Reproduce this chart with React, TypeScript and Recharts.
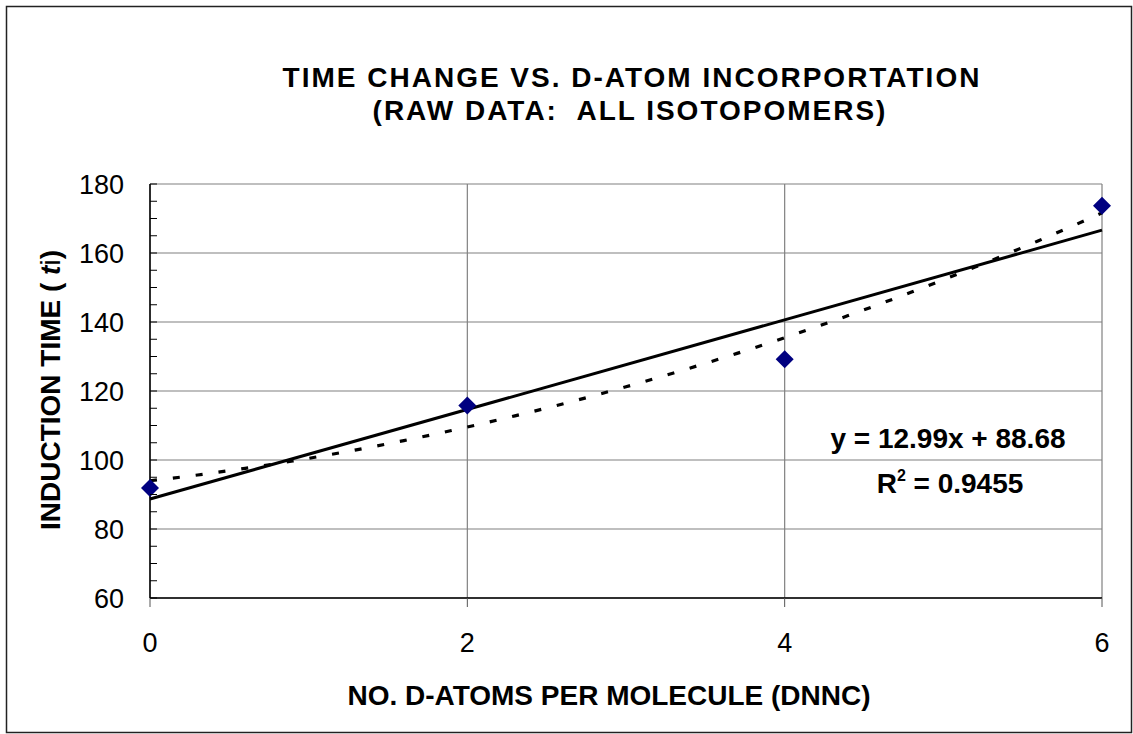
import React from 'react';
import { ComposedChart, Scatter, Line, XAxis, YAxis, CartesianGrid } from 'recharts';

// ---- data ----
const dAtoms = [0, 2, 4, 6];
const inductionTime = [91.9, 115.8, 129.2, 173.7];

const xTicks = [0, 2, 4, 6];
const yTicks = [60, 65, 70, 75, 80, 85, 90, 95, 100, 105, 110, 115, 120, 125, 130, 135, 140, 145, 150, 155, 160, 165, 170, 175, 180];
const yGrid = [60, 80, 100, 120, 140, 160, 180];
const xGrid = [0, 2, 4, 6];

const TREND_SLOPE = 12.99;
const TREND_INTERCEPT = 88.68;
const R_SQUARED = '0.9455';

const titleLine1 = 'TIME CHANGE VS. D-ATOM INCORPORTATION';
const titleLine2 = '(RAW DATA:  ALL ISOTOPOMERS)';
const xLabel = 'NO. D-ATOMS PER MOLECULE (DNNC)';

const points = dAtoms.map((x, i) => ({ x, y: inductionTime[i] }));

// linear trendline (from displayed equation)
const linearTrend = [0, 6].map((x) => ({ x, y: TREND_INTERCEPT + TREND_SLOPE * x }));

// quadratic least-squares trendline computed from the data
function quadFit(xs: number[], ys: number[]) {
  const n = xs.length;
  let s1 = 0, s2 = 0, s3 = 0, s4 = 0, t0 = 0, t1 = 0, t2 = 0;
  for (let i = 0; i < n; i++) {
    const x = xs[i], y = ys[i];
    s1 += x; s2 += x * x; s3 += x * x * x; s4 += x * x * x * x;
    t0 += y; t1 += x * y; t2 += x * x * y;
  }
  const M = [
    [n, s1, s2, t0],
    [s1, s2, s3, t1],
    [s2, s3, s4, t2],
  ];
  for (let c = 0; c < 3; c++) {
    let p = c;
    for (let r = c + 1; r < 3; r++) if (Math.abs(M[r][c]) > Math.abs(M[p][c])) p = r;
    [M[c], M[p]] = [M[p], M[c]];
    for (let r = 0; r < 3; r++) {
      if (r === c) continue;
      const f = M[r][c] / M[c][c];
      for (let k = c; k < 4; k++) M[r][k] -= f * M[c][k];
    }
  }
  return [M[0][3] / M[0][0], M[1][3] / M[1][1], M[2][3] / M[2][2]];
}
const [qa, qb, qc] = quadFit(dAtoms, inductionTime);
const quadSamples: number[] = [];
for (let i = 0; i <= 60; i++) quadSamples.push(i / 10);
const quadTrend = quadSamples.map((x) => ({ x, y: qa + qb * x + qc * x * x }));

const FONT = '"Liberation Sans", Arial, Helvetica, sans-serif';
const PLOT_LEFT = 150;

const Diamond = (props: any) => {
  const { cx, cy } = props;
  if (cx == null || cy == null) return null;
  const r = 9;
  return <polygon points={`${cx},${cy - r} ${cx + r},${cy} ${cx},${cy + r} ${cx - r},${cy}`} fill="#000080" />;
};

const YTick = (props: any) => {
  const { y, payload } = props;
  const v = payload.value;
  return (
    <g>
      <line x1={PLOT_LEFT} x2={PLOT_LEFT + 7} y1={y} y2={y} stroke="#000" strokeWidth={1} />
      {v % 20 === 0 ? (
        <text x={124} y={y} dy={9.5} textAnchor="end" fontFamily={FONT} fontSize={27} fill="#000">
          {v}
        </text>
      ) : null}
    </g>
  );
};

const XTick = (props: any) => {
  const { x, payload } = props;
  return (
    <text x={x} y={652} textAnchor="middle" fontFamily={FONT} fontSize={27} fill="#000">
      {payload.value}
    </text>
  );
};

export default function App() {
  return (
    <div style={{ position: 'absolute', left: 0, top: 0, width: 1133, height: 734, background: '#fff' }}>
      <ComposedChart
        width={1133}
        height={734}
        margin={{ top: 184, right: 31, bottom: 76, left: 60 }}
      >
        <CartesianGrid
          stroke="#808080"
          strokeWidth={1.2}
          horizontalValues={yGrid}
          verticalValues={xGrid}
        />
        <XAxis
          type="number"
          dataKey="x"
          domain={[0, 6]}
          ticks={xTicks}
          height={60}
          axisLine={{ stroke: '#000', strokeWidth: 1.5 }}
          tickLine={{ stroke: '#555', strokeWidth: 1 }}
          tickSize={9}
          tick={<XTick />}
        />
        <YAxis
          type="number"
          dataKey="y"
          domain={[60, 180]}
          ticks={yTicks}
          width={90}
          interval={0}
          axisLine={{ stroke: '#000', strokeWidth: 1.5 }}
          tickLine={false}
          tick={<YTick />}
        />
        <Scatter data={points} dataKey="y" shape={<Diamond />} isAnimationActive={false} />
        <Line
          data={quadTrend}
          dataKey="y"
          type="linear"
          stroke="#000"
          strokeWidth={3.2}
          strokeDasharray="7 16"
          dot={false}
          activeDot={false}
          isAnimationActive={false}
        />
        <Line
          data={linearTrend}
          dataKey="y"
          type="linear"
          stroke="#000"
          strokeWidth={3}
          dot={false}
          activeDot={false}
          isAnimationActive={false}
        />
      </ComposedChart>
      <svg
        width={1133}
        height={734}
        style={{ position: 'absolute', left: 0, top: 0, pointerEvents: 'none' }}
      >
        <rect x={6.5} y={6.5} width={1125} height={726} fill="none" stroke="#222" strokeWidth={1.5} />
        <text x={632} y={87} textAnchor="middle" fontFamily={FONT} fontWeight="bold" fontSize={28} letterSpacing={2} fill="#000">
          {titleLine1}
        </text>
        <text x={630} y={120} textAnchor="middle" fontFamily={FONT} fontWeight="bold" fontSize={28} letterSpacing={2} fill="#000" style={{ whiteSpace: 'pre' }}>
          {titleLine2}
        </text>
        <text x={609} y={705} textAnchor="middle" fontFamily={FONT} fontWeight="bold" fontSize={28} fill="#000">
          {xLabel}
        </text>
        <text
          transform="translate(60, 390) rotate(-90)"
          x={0}
          y={0}
          textAnchor="middle"
          fontFamily={FONT}
          fontWeight="bold"
          fontSize={28}
          fill="#000"
          style={{ whiteSpace: 'pre' }}
        >
          <tspan>{'INDUCTION TIME ( '}</tspan>
          <tspan fontStyle="italic">t</tspan>
          <tspan fontWeight="normal">i</tspan>
          <tspan>)</tspan>
        </text>
        <text x={948} y={448} textAnchor="middle" fontFamily={FONT} fontWeight="bold" fontSize={28} fill="#000">
          {`y = ${TREND_SLOPE}x + ${TREND_INTERCEPT}`}
        </text>
        <text x={950} y={493} textAnchor="middle" fontFamily={FONT} fontWeight="bold" fontSize={28} fill="#000">
          <tspan>R</tspan>
          <tspan fontSize={16} dy={-12}>2</tspan>
          <tspan dy={12}>{` = ${R_SQUARED}`}</tspan>
        </text>
      </svg>
    </div>
  );
}
